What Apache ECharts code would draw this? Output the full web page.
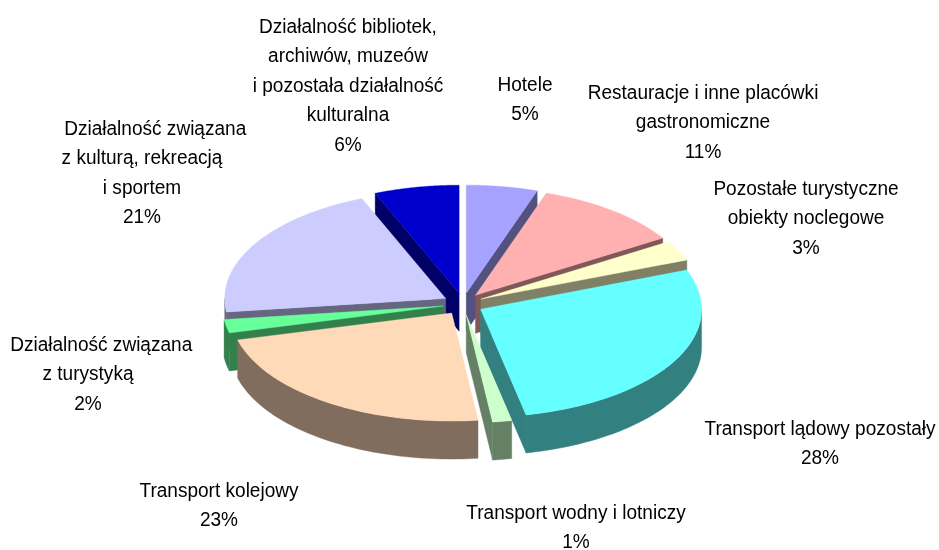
<!DOCTYPE html>
<html>
<head>
    <meta charset="utf-8">
    <title>ECharts</title>
    <script type="text/javascript" src="https://cdn.jsdelivr.net/npm/echarts@6/dist/echarts.min.js"></script>
    <style type="text/css">
        html,body{margin:0;padding:0;background:#fff;}
        #main{width:939px;height:550px;}
    </style>
</head>
<body>
    <div id="main"></div>
    <script type="text/javascript">
        // categories and shares, clockwise from 12 o'clock
        var categories = [
            'Hotele',
            'Restauracje i inne placówki\ngastronomiczne',
            'Pozostałe turystyczne\nobiekty noclegowe',
            'Transport lądowy pozostały',
            'Transport wodny i lotniczy',
            'Transport kolejowy',
            '\u00a0\u00a0\u00a0\u00a0\u00a0Działalność związana\nz turystyką',
            '\u00a0\u00a0\u00a0\u00a0\u00a0Działalność związana\nz kulturą, rekreacją\ni sportem',
            'Działalność bibliotek,\narchiwów, muzeów\ni pozostała działalność\nkulturalna'
        ];
        var values = [5.2, 10.9, 3.0, 27.6, 1.4, 22.9, 2.0, 20.8, 6.2];
        var colors = ['#A6A2FF', '#FFB0B0', '#FFFFCC', '#66FFFF', '#CCFFCC', '#FFDAB9', '#66FF99', '#CCCCFF', '#0000CC'];

        // label anchors: centre x, y of the first line's middle
        var labelX = [525, 703, 806, 820, 576, 219, 88, 142, 348];
        var labelY = [85, 93, 189, 429, 513, 491, 345, 129, 27];

        // pie geometry
        var cx = 463, cy = 304;
        var rx = 221, ry = 108;
        var explodeX = 20, explodeY = 11;
        var depth = 38;
        var lineH = 29.5;

        var total = values.reduce(function (a, b) { return a + b; }, 0);
        var startAngles = [];
        values.reduce(function (sum, v, i) {
            startAngles[i] = sum / total * Math.PI * 2;
            return sum + v;
        }, 0);

        // side walls are the top colour at half brightness
        function darken(color) {
            var c = echarts.color.parse(color);
            return 'rgb(' + Math.round(c[0] / 2) + ',' + Math.round(c[1] / 2) + ',' + Math.round(c[2] / 2) + ')';
        }

        function renderSlice(params, api) {
            var i = params.dataIndex;
            var a0 = startAngles[i];
            var a1 = a0 + api.value(0) / total * Math.PI * 2;
            var mid = (a0 + a1) / 2;
            var ax = cx + explodeX * Math.sin(mid);
            var ay = cy - explodeY * Math.cos(mid);
            var rim = function (a, dy) {
                return [ax + rx * Math.sin(a), ay - ry * Math.cos(a) + (dy || 0)];
            };
            var side = darken(colors[i]);
            var order = Math.round((1 - Math.cos(mid)) * 40);
            var poly = function (points, fill, z) {
                return {
                    type: 'polygon',
                    z2: order * 10 + z,
                    shape: { points: points },
                    style: { fill: fill, stroke: fill, lineWidth: 0.4 }
                };
            };
            var apex = [ax, ay];
            var children = [];

            // cut faces looking towards the viewer
            if (Math.sin(a0) < 0) {
                children.push(poly([apex, rim(a0), rim(a0, depth), [ax, ay + depth]], side, 0));
            }
            if (Math.sin(a1) > 0) {
                children.push(poly([apex, rim(a1), rim(a1, depth), [ax, ay + depth]], side, 0));
            }

            // outer wall, only the front half of the rim shows
            var from = Math.max(a0, Math.PI / 2), to = Math.min(a1, Math.PI * 1.5);
            if (to > from) {
                var upper = [], lower = [];
                for (var s = 0; s <= 60; s++) {
                    var a = from + (to - from) * s / 60;
                    upper.push(rim(a));
                    lower.unshift(rim(a, depth));
                }
                children.push(poly(upper.concat(lower), side, 1));
            }

            // top
            var top = [apex];
            for (var t = 0; t <= 60; t++) {
                top.push(rim(a0 + (a1 - a0) * t / 60));
            }
            children.push(poly(top, colors[i], 2));

            // label
            children.push({
                type: 'text',
                z2: 5000,
                x: labelX[i],
                y: labelY[i] - lineH / 2,
                scaleX: 0.952,
                style: {
                    x: 0,
                    y: 0,
                    text: categories[i] + '\n' + Math.round(api.value(0)) + '%',
                    align: 'center',
                    verticalAlign: 'top',
                    lineHeight: lineH,
                    fontSize: 20,
                    fontFamily: '"Liberation Sans", Arial, sans-serif',
                    fill: '#000'
                }
            });

            return { type: 'group', children: children };
        }

        var myChart = echarts.init(document.getElementById('main'), null, { renderer: 'canvas' });
        var option = {
            animation: false,
            backgroundColor: '#fff',
            series: [{
                type: 'custom',
                coordinateSystem: 'none',
                silent: true,
                renderItem: renderSlice,
                data: values.map(function (v) { return [v]; })
            }]
        };
        myChart.setOption(option);
    </script>
</body>
</html>
